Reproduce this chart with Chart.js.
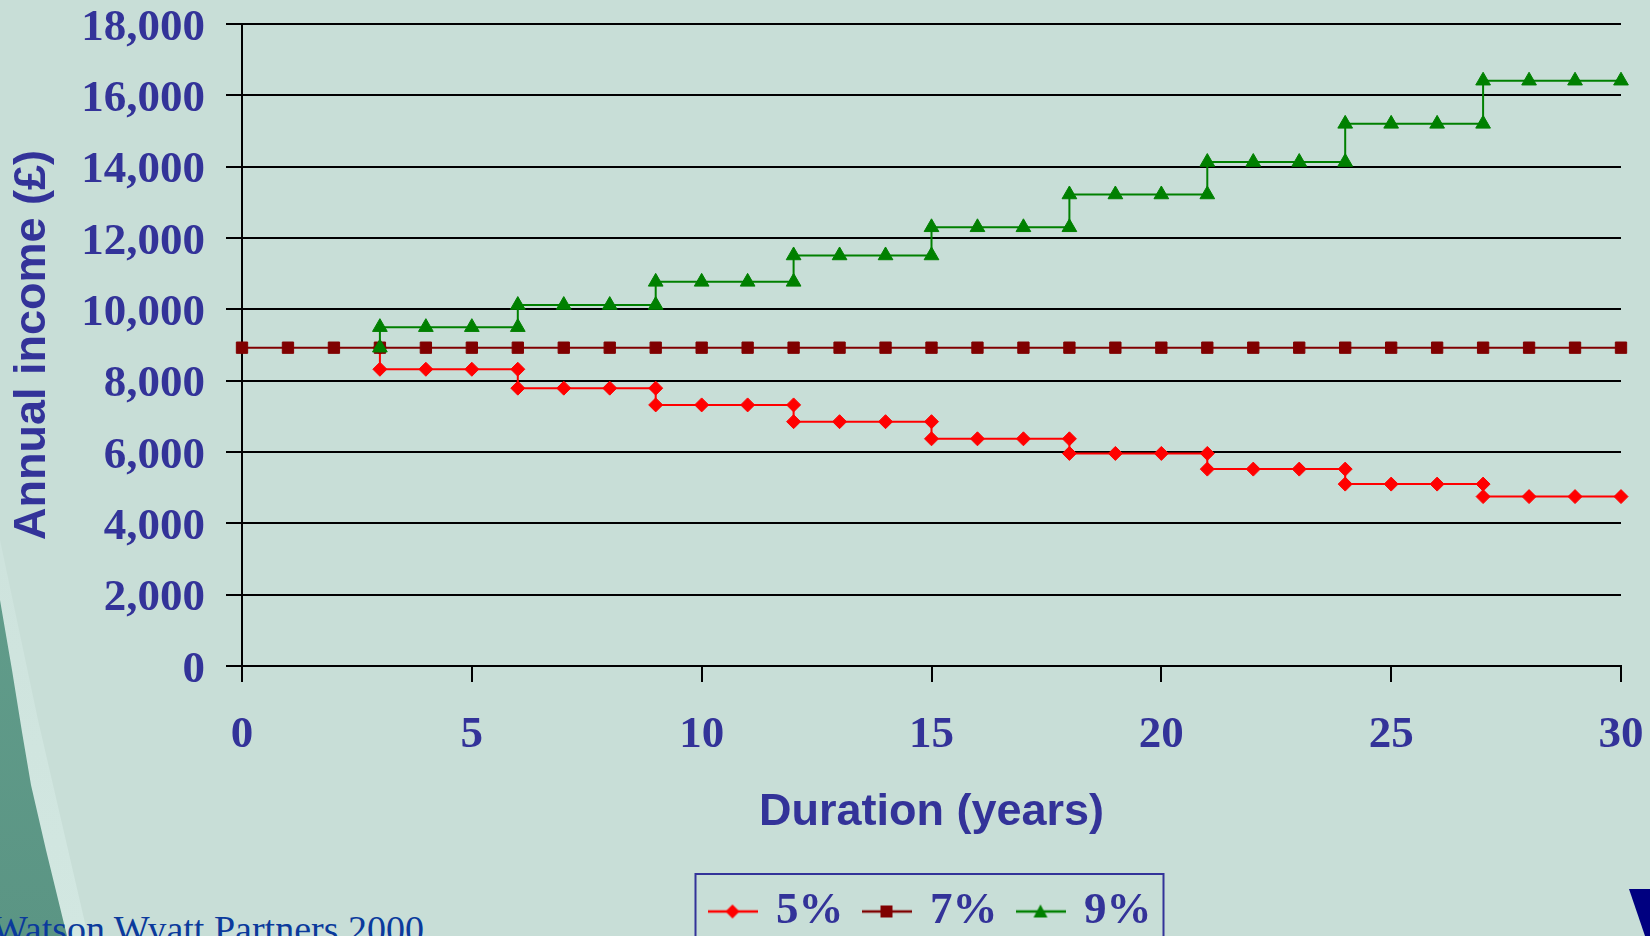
<!DOCTYPE html>
<html>
<head>
<meta charset="utf-8">
<script src="https://cdn.jsdelivr.net/npm/chart.js@4.4.1/dist/chart.umd.min.js"></script>
<style>
    html, body { margin: 0; padding: 0; overflow: hidden; }
    body { width: 1650px; height: 936px; background: #c8ded7; position: relative; }
    #chart-box { position: absolute; left: 0; top: 0; width: 1650px; height: 944px; }
    .stripe { position: absolute; left: 0; top: 0; width: 200px; height: 936px; }
    #stripe-light { background: linear-gradient(180deg, #c8ded7 0%, #cfe4de 70%, #d2e7e1 100%); clip-path: polygon(0 540px, 38px 720px, 88px 936px, 0 936px); }
    #stripe-dark { background: linear-gradient(180deg, #70b4a1 0%, #64a08e 40%, #5b9584 100%); clip-path: polygon(0 600px, 12px 670px, 22px 732px, 31px 785px, 46px 850px, 67px 936px, 0 936px); }
    #logo { position: absolute; left: 0; top: 0; width: 1650px; height: 936px; background: #000080; clip-path: polygon(1629px 889px, 1650px 889px, 1650px 936px, 1645px 936px); }
    #footer { position: absolute; left: -8px; top: 910px; font: 38px "Liberation Serif", serif; line-height: 38px; color: #0b3a9c; white-space: nowrap; }
</style>
</head>
<body>
<div class="stripe" id="stripe-light"></div>
<div class="stripe" id="stripe-dark"></div>
<div id="footer">Watson Wyatt Partners 2000</div>
<div id="logo"></div>
<div id="chart-box"><canvas id="income-chart"></canvas></div>
<script>
// Tick values
const xTicks = [0, 5, 10, 15, 20, 25, 30];
const yTicks = [0, 2000, 4000, 6000, 8000, 10000, 12000, 14000, 16000, 18000];

// 7% - level income
const years7 = [0, 1, 2, 3, 4, 5, 6, 7, 8, 9, 10, 11, 12, 13, 14, 15, 16, 17, 18, 19, 20, 21, 22, 23, 24, 25, 26, 27, 28, 29, 30];
const income7 = [8925, 8925, 8925, 8925, 8925, 8925, 8925, 8925, 8925, 8925, 8925, 8925, 8925, 8925, 8925, 8925,
    8925, 8925, 8925, 8925, 8925, 8925, 8925, 8925, 8925, 8925, 8925, 8925, 8925, 8925, 8925];

// 5% - steps down every 3 years (two points at each step year)
const years5 = [3, 3, 4, 5, 6, 6, 7, 8, 9, 9, 10, 11, 12, 12, 13, 14, 15, 15, 16, 17, 18, 18, 19, 20, 21, 21, 22, 23, 24, 24, 25, 26, 27, 27, 28, 29, 30];
const income5 = [8925, 8320, 8320, 8320, 8320, 7790, 7790, 7790, 7790, 7320, 7320, 7320, 7320, 6850, 6850, 6850, 6850,
    6370, 6370, 6370, 6370, 5960, 5960, 5960, 5960, 5520, 5520, 5520, 5520, 5100, 5100, 5100, 5100, 4750, 4750, 4750, 4750];

// 9% - steps up every 3 years
const years9 = [3, 3, 4, 5, 6, 6, 7, 8, 9, 9, 10, 11, 12, 12, 13, 14, 15, 15, 16, 17, 18, 18, 19, 20, 21, 21, 22, 23, 24, 24, 25, 26, 27, 27, 28, 29, 30];
const income9 = [8925, 9500, 9500, 9500, 9500, 10120, 10120, 10120, 10120, 10770, 10770, 10770, 10770, 11510, 11510, 11510, 11510,
    12300, 12300, 12300, 12300, 13220, 13220, 13220, 13220, 14130, 14130, 14130, 14130, 15200, 15200, 15200, 15200, 16410, 16410, 16410, 16410];

const labels = ["5%", "7%", "9%"];
const colors = ["#ff0000", "#800000", "#008000"];
const markers = ["rectRot", "rect", "triangle"];

const navy = "#333399";
const serifBold = { family: "'Liberation Serif', 'Times New Roman', serif", weight: "bold", size: 45 };
const sansBold = { family: "'Liberation Sans', Arial, sans-serif", weight: "bold", size: 45 };

function toPoints(xs, ys) {
    return xs.map((x, i) => ({ x: x, y: ys[i] }));
}

// small line + marker icon for the legend
function legendIcon(color, marker) {
    const c = document.createElement("canvas");
    c.width = 50;
    c.height = 18;
    const ctx = c.getContext("2d");
    ctx.strokeStyle = color;
    ctx.fillStyle = color;
    ctx.lineWidth = 2.5;
    ctx.beginPath();
    ctx.moveTo(0, 9);
    ctx.lineTo(50, 9);
    ctx.stroke();
    ctx.beginPath();
    if (marker === "rectRot") {
        ctx.moveTo(25, 2); ctx.lineTo(32, 9); ctx.lineTo(25, 16); ctx.lineTo(18, 9);
    } else if (marker === "rect") {
        ctx.rect(19, 3, 12, 12);
    } else {
        ctx.moveTo(25, 2); ctx.lineTo(32, 15); ctx.lineTo(18, 15);
    }
    ctx.closePath();
    ctx.fill();
    return c;
}

// border round the legend items
const legendBorder = {
    id: "legendBorder",
    afterDraw(chart) {
        const boxes = chart.legend.legendHitBoxes;
        if (!boxes || !boxes.length) return;
        const left = Math.min(...boxes.map(b => b.left)) - 16;
        const right = Math.max(...boxes.map(b => b.left + b.width)) + 12;
        const top = 874;
        const ctx = chart.ctx;
        ctx.save();
        ctx.strokeStyle = navy;
        ctx.lineWidth = 2;
        ctx.strokeRect(left, top, right - left, 100);
        ctx.restore();
    }
};

// drop the extra room chart.js reserves for overhanging tick labels
function noLabelPadding(scale) {
    scale.paddingTop = 0;
    scale.paddingBottom = 0;
    scale.paddingLeft = 0;
    scale.paddingRight = 0;
}

function makeDataset(i, xs, ys, radius, order) {
    return {
        label: labels[i],
        data: toPoints(xs, ys),
        showLine: true,
        borderColor: colors[i],
        backgroundColor: colors[i],
        borderWidth: 2,
        pointStyle: markers[i],
        pointRadius: radius,
        pointBorderWidth: 1,
        pointBorderColor: colors[i],
        pointBackgroundColor: colors[i],
        tension: 0,
        fill: false,
        clip: false,
        order: order
    };
}

const ctx = document.getElementById("income-chart").getContext("2d");

new Chart(ctx, {
    type: "scatter",
    data: {
        datasets: [
            makeDataset(0, years5, income5, 7, 3),
            makeDataset(1, years7, income7, 8, 2),
            makeDataset(2, years9, income9, 8.5, 1)
        ]
    },
    options: {
        responsive: true,
        maintainAspectRatio: false,
        animation: false,
        events: [],
        layout: { padding: { left: 0, top: 24, right: 29, bottom: 0 } },
        plugins: {
            tooltip: { enabled: false },
            legend: {
                position: "bottom",
                fullSize: false,
                labels: {
                    usePointStyle: true,
                    pointStyleWidth: 42,
                    padding: 22,
                    color: navy,
                    font: serifBold,
                    sort: (a, b) => a.datasetIndex - b.datasetIndex,
                    generateLabels(chart) {
                        return chart.data.datasets.map((ds, i) => ({
                            text: ds.label,
                            fontColor: navy,
                            pointStyle: legendIcon(colors[i], markers[i]),
                            datasetIndex: i,
                            hidden: false,
                            lineWidth: 0
                        }));
                    }
                }
            }
        },
        scales: {
            x: {
                type: "linear",
                min: 0,
                max: 30,
                afterBuildTicks: scale => { scale.ticks = xTicks.map(v => ({ value: v })); },
                afterFit: scale => { scale.height = 201; noLabelPadding(scale); },
                ticks: {
                    color: navy,
                    font: serifBold,
                    padding: 26,
                    maxRotation: 0
                },
                grid: {
                    drawOnChartArea: false,
                    drawTicks: true,
                    tickLength: 16,
                    color: "#000",
                    lineWidth: 2
                },
                border: { color: "#000", width: 2 },
                title: {
                    display: true,
                    text: "Duration (years)",
                    color: navy,
                    font: sansBold,
                    padding: { top: 0, bottom: 27 }
                }
            },
            y: {
                type: "linear",
                min: 0,
                max: 18000,
                afterBuildTicks: scale => { scale.ticks = yTicks.map(v => ({ value: v })); },
                afterFit: scale => { scale.width = 242; noLabelPadding(scale); },
                ticks: {
                    color: navy,
                    font: Object.assign({}, serifBold, { lineHeight: 1 }),
                    padding: 21,
                    labelOffset: 4,
                    callback: v => v.toLocaleString("en-US")
                },
                grid: {
                    drawOnChartArea: true,
                    tickLength: 16,
                    color: "#000",
                    lineWidth: 2
                },
                border: { color: "#000", width: 2 },
                title: {
                    display: true,
                    text: "Annual income (£)",
                    color: navy,
                    font: sansBold,
                    padding: { top: 6, bottom: 0 }
                }
            }
        }
    },
    plugins: [legendBorder]
});
</script>
</body>
</html>
